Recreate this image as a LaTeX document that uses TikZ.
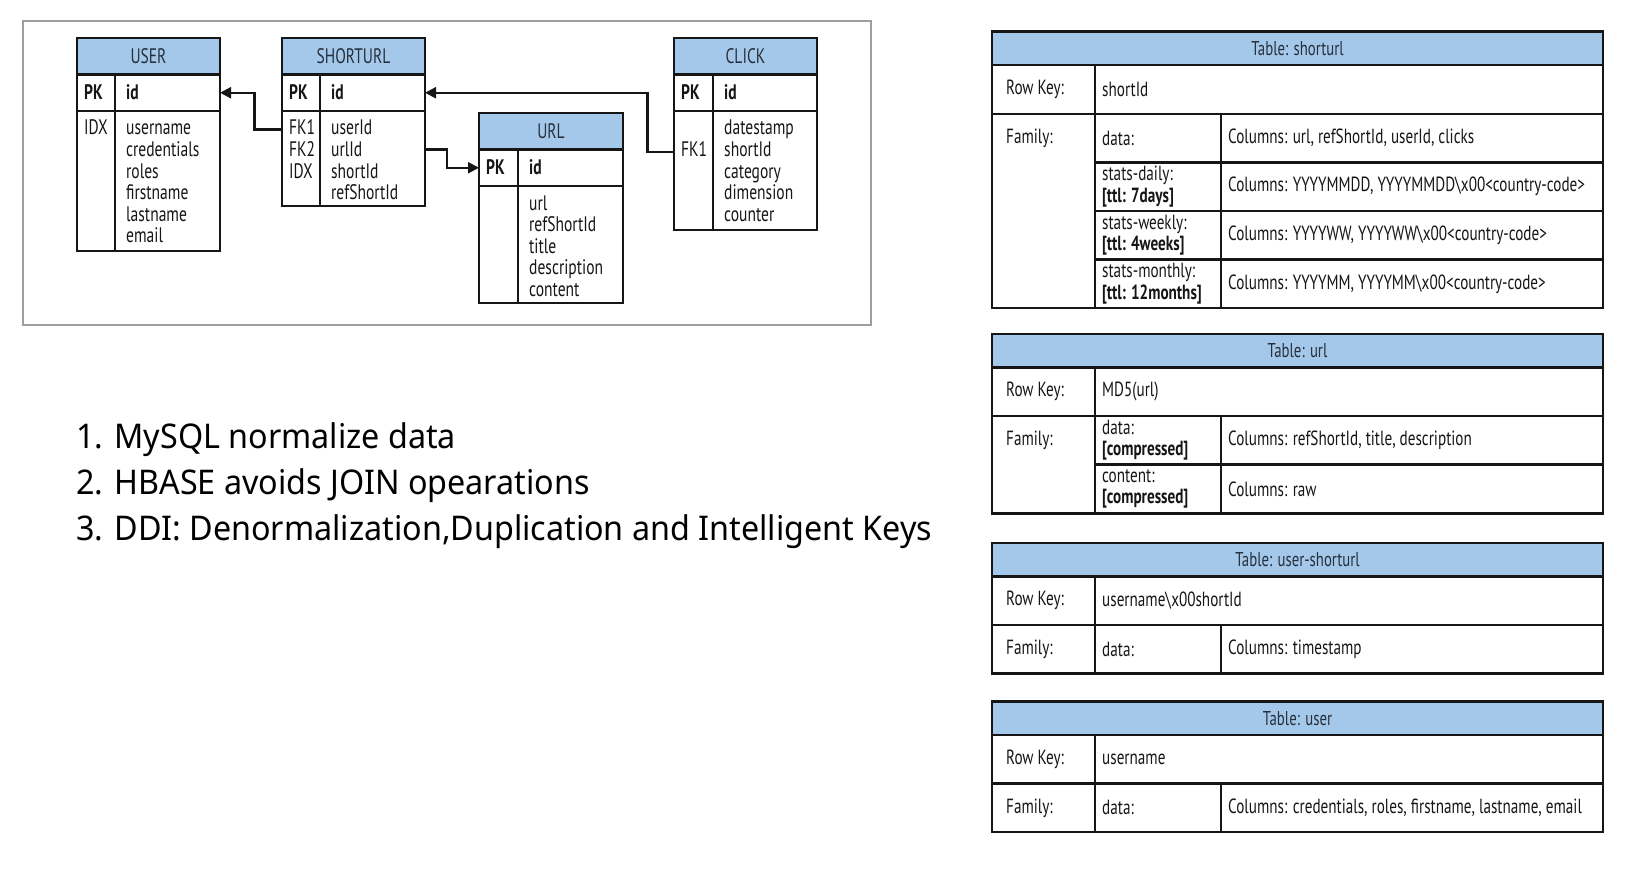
\documentclass[tikz,border=0pt]{standalone}
\usepackage{fontspec}
\setmainfont{PT Sans}
\newfontfamily\erdfont[FakeStretch=0.74]{PT Sans}
\newfontfamily\notefont[FakeStretch=0.95]{Noto Sans}
\usetikzlibrary{arrows.meta}
\definecolor{hdrblue}{RGB}{164,200,234}
\definecolor{hdrink}{RGB}{38,48,60}
\definecolor{frmgray}{RGB}{158,158,158}
\definecolor{ink}{RGB}{22,22,22}
\tikzset{
	box/.style={rectangle, draw=ink, line width=2.5pt, inner sep=0pt, outer sep=0pt, anchor=north west},
	boxline/.style={draw=ink, line width=2.5pt},
	headbox/.style={box, fill=hdrblue, text=hdrink, font=\erdfont\fontsize{21}{22}\selectfont},
	tblhead/.style={box, fill=hdrblue, text=hdrink, font=\erdfont\fontsize{20}{21}\selectfont},
	erdtxt/.style={inner sep=0pt, anchor=base west, text=ink, font=\erdfont\fontsize{21}{22}\selectfont},
	erdkey/.style={erdtxt, font=\erdfont\bfseries\fontsize{21}{22}\selectfont},
	celltxt/.style={inner sep=0pt, anchor=west, align=left, text=ink, font=\erdfont\fontsize{20.5}{21.5}\selectfont},
	fk/.style={draw=ink, line width=2.2pt, -{Triangle[length=11pt, width=11pt]}},
	note/.style={inner sep=0pt, anchor=base west, font=\notefont\fontsize{34}{40}\selectfont},
}
\begin{document}
\begin{tikzpicture}[x=1pt, y=-1pt]
	\fill[white] (0,0) rectangle (1638,872);
	\useasboundingbox (0,0) rectangle (1638,872);
	% relational schema (ERD)
	\draw[frmgray, line width=2pt] (23,21) rectangle (871,325);
	\foreach \name/\xl/\xd/\xr/\yt/\yb/\title/\keys/\fields in {
		user/77/115/220/38/251/USER/{IDX}/{username,credentials,roles,firstname,lastname,email},
		shorturl/282/320/425/38/206/SHORTURL/{FK1,FK2,IDX}/{userId,urlId,shortId,refShortId},
		url/479/518/623/113/303/URL/{}/{url,refShortId,title,description,content},
		click/674/713/817/38/230/CLICK/{,FK1}/{datestamp,shortId,category,dimension,counter}}
	{
		\node[headbox, minimum width={(\xr-\xl)*1pt}, minimum height=36.5pt] (\name-head) at (\xl,\yt) {\title};
		\node[box, minimum width={(\xr-\xl)*1pt}, minimum height=36.5pt] (\name-pk) at ({\xl},{\yt+36.5}) {};
		\node[box, minimum width={(\xr-\xl)*1pt}, minimum height={(\yb-\yt-73)*1pt}] (\name-body) at ({\xl},{\yt+73}) {};
		\draw[boxline] ({\xd},{\yt+36.5}) -- ({\xd},{\yb});
		\node[erdkey] at ({\xl+7},{\yt+61.5}) {PK};
		\node[erdkey] at ({\xd+11},{\yt+61.5}) {id};
		\foreach \k [count=\j] in \keys
			\node[erdtxt] at ({\xl+7},{\yt+75.5+21.5*\j}) {\k};
		\foreach \f [count=\j] in \fields
			\node[erdtxt] at ({\xd+11},{\yt+75.5+21.5*\j}) {\f};
	}
	\draw[fk] ([yshift=-18.5pt]shorturl-body.north west) -- ++(-27.5,0) |- (user-pk.east);
	\draw[fk] ([yshift=-38.5pt]shorturl-body.north east) -- ++(22,0) |- (url-pk.west);
	\draw[fk] ([yshift=-41pt]click-body.north west) -- ++(-26.5,0) |- (shorturl-pk.east);
	% notes
	\foreach \txt [count=\i] in {
		{1. MySQL normalize data},
		{2. HBASE avoids JOIN opearations},
		{3. DDI: Denormalization,Duplication and Intelligent Keys}}
		\node[note] (note\i) at (76,{402+46*\i}) {\txt};
	% hbase tables
	\foreach \name/\yt/\title/\key/\n/\rows in {
		hshorturl/31.7/{Table: shorturl}/shortId/4/{data:/{Columns: url, refShortId, userId, clicks},
			{stats-daily:\\\textbf{[ttl: 7days]}}/{Columns: YYYYMMDD, YYYYMMDD\textbackslash x00<country-code>},
			{stats-weekly:\\\textbf{[ttl: 4weeks]}}/{Columns: YYYYWW, YYYYWW\textbackslash x00<country-code>},
			{stats-monthly:\\\textbf{[ttl: 12months]}}/{Columns: YYYYMM, YYYYMM\textbackslash x00<country-code>}},
		hurl/334/{Table: url}/{MD5(url)}/2/{{data:\\\textbf{[compressed]}}/{Columns: refShortId, title, description},
			{content:\\\textbf{[compressed]}}/{Columns: raw}},
		huser-shorturl/543/{Table: user-shorturl}/{username\textbackslash x00shortId}/1/{data:/{Columns: timestamp}},
		huser/701.5/{Table: user}/username/1/{data:/{Columns: credentials, roles, firstname, lastname, email}}}
	{
		\node[tblhead, minimum width=611pt, minimum height=33.5pt] (\name-head) at (992,{\yt}) {\title};
		\node[box, minimum width=611pt, minimum height=48.6pt] (\name-key) at (992,{\yt+33.5}) {};
		\node[box, minimum width=611pt, minimum height={48.6pt*\n}] (\name-fam) at (992,{\yt+82.1}) {};
		\draw[boxline] (1095,{\yt+33.5}) -- (1095,{\yt+33.5+48.6*(\n+1)});
		\node[celltxt] at (1006,{\yt+57.8}) {Row Key:};
		\node[celltxt] at (1102,{\yt+57.8}) {\key};
		\node[celltxt] at (1006,{\yt+106.4}) {Family:};
		\foreach \fam/\cols [count=\k] in \rows {
			\node[box, minimum width=508pt, minimum height=48.6pt] (\name-fam\k) at (1095,{\yt+33.5+48.6*\k}) {};
			\draw[boxline] (1221,{\yt+33.5+48.6*\k}) -- ++(0,48.6);
			\node[celltxt] at (1102,{\yt+57.8+48.6*\k}) {\fam};
			\node[celltxt] at (1228,{\yt+57.8+48.6*\k}) {\cols};
		}
	}
\end{tikzpicture}
\end{document}
